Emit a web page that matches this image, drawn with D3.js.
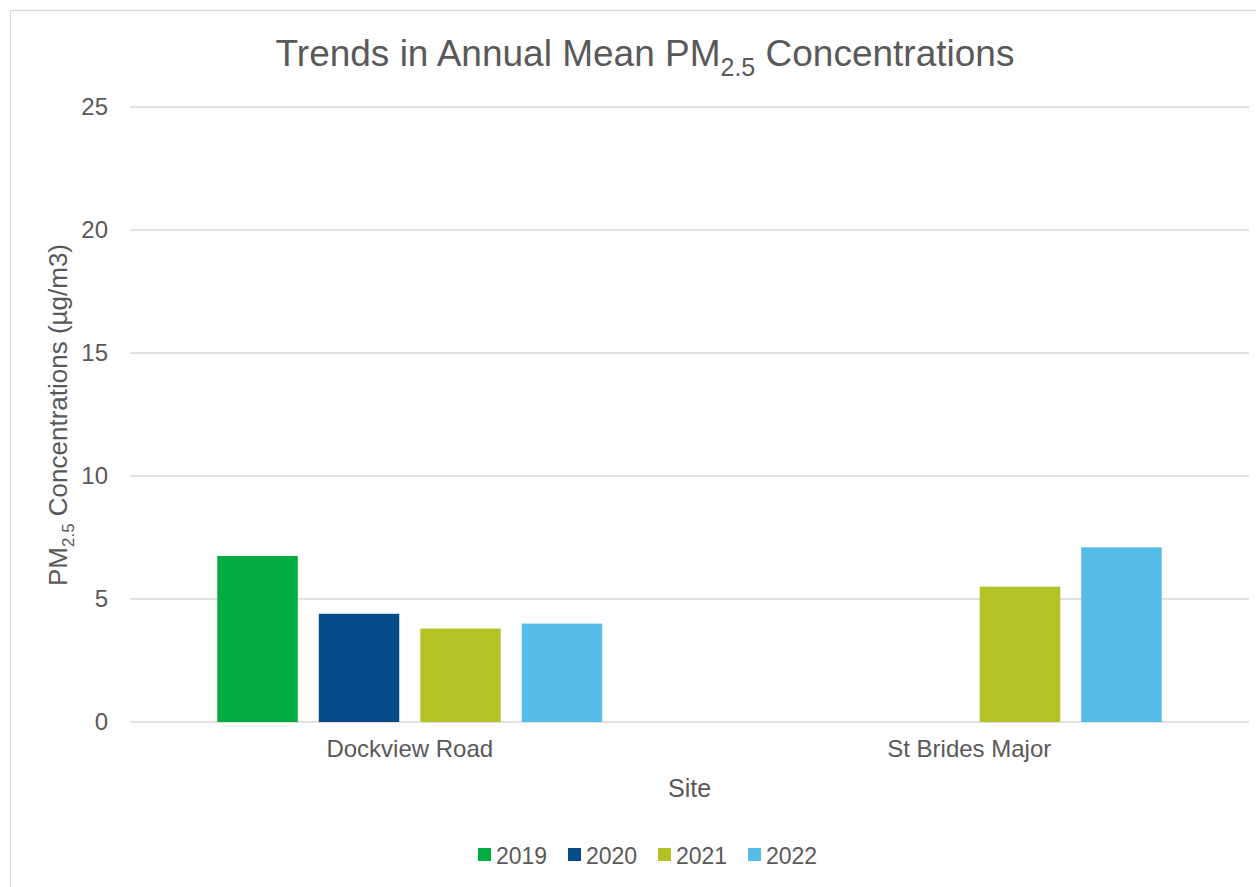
<!DOCTYPE html>
<html>
<head>
<meta charset="utf-8">
<script src="https://cdn.jsdelivr.net/npm/d3@7"></script>
<style>
  body { margin: 0; background: #fff; }
  text { font-family: "Liberation Sans", Arial, sans-serif; fill: #595959; }
</style>
</head>
<body>
<div id="chart"></div>
<script>
// -DATA-
const sites = ["Dockview Road", "St Brides Major"];
const years = ["2019", "2020", "2021", "2022"];
const dockviewValues = [6.75, 4.4, 3.8, 4.0];
const stBridesValues = [null, null, 5.5, 7.1];
const yTicks = [0, 5, 10, 15, 20, 25];
const colors = ["#00ac41", "#054c89", "#b3c325", "#56bce8"];

const W = 1256, H = 887;
const margin = { top: 107, right: 7, bottom: 165, left: 130 };

const svg = d3.select("#chart").append("svg")
    .attr("width", W).attr("height", H);

// outer chart frame
svg.append("rect")
    .attr("x", 10.5).attr("y", 10.5)
    .attr("width", W + 20).attr("height", H + 20)
    .attr("fill", "none").attr("stroke", "#d9d9d9").attr("stroke-width", 1.3);

const y = d3.scaleLinear().domain([0, 25]).range([H - margin.bottom, margin.top]);
const x0 = d3.scaleBand().domain(sites).range([margin.left, W - margin.right]).padding(0);
const x1 = d3.scaleBand().domain(years).range([0, x0.bandwidth()])
    .paddingInner(0.207).paddingOuter(0.86);
const color = d3.scaleOrdinal().domain(years).range(colors);

// gridlines
svg.append("g").selectAll("line")
    .data(yTicks)
    .enter().append("line")
    .attr("x1", margin.left).attr("x2", W - margin.right)
    .attr("y1", d => y(d)).attr("y2", d => y(d))
    .attr("stroke", "#d9d9d9").attr("stroke-width", 1.3);

// y tick labels
const yAxis = svg.append("g")
    .attr("transform", "translate(" + margin.left + ",0)")
    .call(d3.axisLeft(y).tickValues(yTicks).tickSize(0).tickPadding(22));
yAxis.select(".domain").remove();
yAxis.selectAll("text").attr("font-size", "24px").attr("fill", "#595959")
    .style("font-family", "Liberation Sans, Arial, sans-serif");

// bars
const table = sites.map((s, i) => ({
    site: s,
    values: years.map((yr, j) => ({ year: yr, value: i === 0 ? dockviewValues[j] : stBridesValues[j] }))
}));

const groups = svg.append("g").selectAll("g")
    .data(table)
    .enter().append("g")
    .attr("transform", d => "translate(" + x0(d.site) + ",0)");

groups.selectAll("rect")
    .data(d => d.values.filter(v => v.value != null))
    .enter().append("rect")
    .attr("x", d => x1(d.year))
    .attr("y", d => y(d.value))
    .attr("width", x1.bandwidth())
    .attr("height", d => y(0) - y(d.value))
    .attr("fill", d => color(d.year));

// x category labels
const xAxis = svg.append("g")
    .attr("transform", "translate(0," + y(0) + ")")
    .call(d3.axisBottom(x0).tickSize(0).tickPadding(18));
xAxis.select(".domain").remove();
xAxis.selectAll("text").attr("font-size", "24px").attr("fill", "#595959")
    .style("font-family", "Liberation Sans, Arial, sans-serif");

// title
const title = svg.append("text")
    .attr("x", 645).attr("y", 66)
    .attr("text-anchor", "middle")
    .attr("font-size", "37px");
title.append("tspan").text("Trends in Annual Mean PM");
title.append("tspan").text("2.5").attr("font-size", "25px").attr("dy", 10);
title.append("tspan").text(" Concentrations").attr("dy", -10);

// axis titles
svg.append("text")
    .attr("x", x0.range()[0] + (x0.range()[1] - x0.range()[0]) / 2)
    .attr("y", 797)
    .attr("text-anchor", "middle")
    .attr("font-size", "25px")
    .text("Site");

const yTitle = svg.append("text")
    .attr("transform", "translate(67," + 415 + ") rotate(-90)")
    .attr("text-anchor", "middle")
    .attr("font-size", "26px");
yTitle.append("tspan").text("PM");
yTitle.append("tspan").text("2.5").attr("font-size", "17px").attr("dy", 7);
yTitle.append("tspan").text(" Concentrations (µg/m3)").attr("dy", -7);

// legend
const legend = svg.append("g").attr("id", "legend");
const legendX = [478, 568, 658, 748];
const items = legend.selectAll("g")
    .data(years)
    .enter().append("g")
    .attr("transform", (d, i) => "translate(" + legendX[i] + ",848)");
items.append("rect")
    .attr("width", 13).attr("height", 13)
    .attr("fill", d => color(d));
items.append("text")
    .attr("x", 18).attr("y", 16)
    .attr("font-size", "23px")
    .text(d => d);
</script>
</body>
</html>
